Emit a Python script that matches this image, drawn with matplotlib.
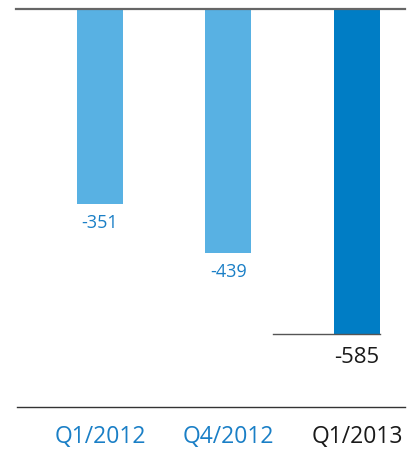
import numpy as np
import matplotlib.pyplot as plt

# Chart data
categories = ['Q1/2012', 'Q4/2012', 'Q1/2013']
values = [-351, -439, -585]
bar_colors = ['#58B1E3', '#58B1E3', '#007DC5']
text_colors = ['#1A7FC6', '#1A7FC6', '#1a1a1a']

plt.rcParams['font.family'] = ['Open Sans', 'DejaVu Sans']

fig = plt.figure(figsize=(4.14, 4.5), dpi=100)
ax = fig.add_axes([0, 0, 1, 1])
ax.set_xlim(-0.778, 2.444)
ax.set_ylim(-793, 17.1)
ax.axis('off')

x = np.arange(len(categories))
ax.bar(x, values, width=0.358, color=bar_colors, zorder=2)

# Zero line at top and bottom rule
ax.plot([-0.654, 2.374], [0, 0], color='#666666', lw=1.6, zorder=3)
ax.plot([-0.646, 2.374], [-715.6, -715.6], color='#333333', lw=1.0)

# Line under the latest bar
ax.plot([1.346, x[2] + 0.179], [values[2], values[2]], color='#555555', lw=1.0, zorder=3)

# Value labels
for i, v in enumerate(values):
    big = i == len(values) - 1
    ax.text(x[i], v - (52 if big else 43), f'{v}', ha='center', va='baseline',
            color=text_colors[i], fontsize=16 if big else 13)

# Category labels
for i, c in enumerate(categories):
    ax.text(x[i], -780, c, ha='center', va='baseline', color=text_colors[i], fontsize=16.5)

fig.savefig('out.png', dpi=100)
